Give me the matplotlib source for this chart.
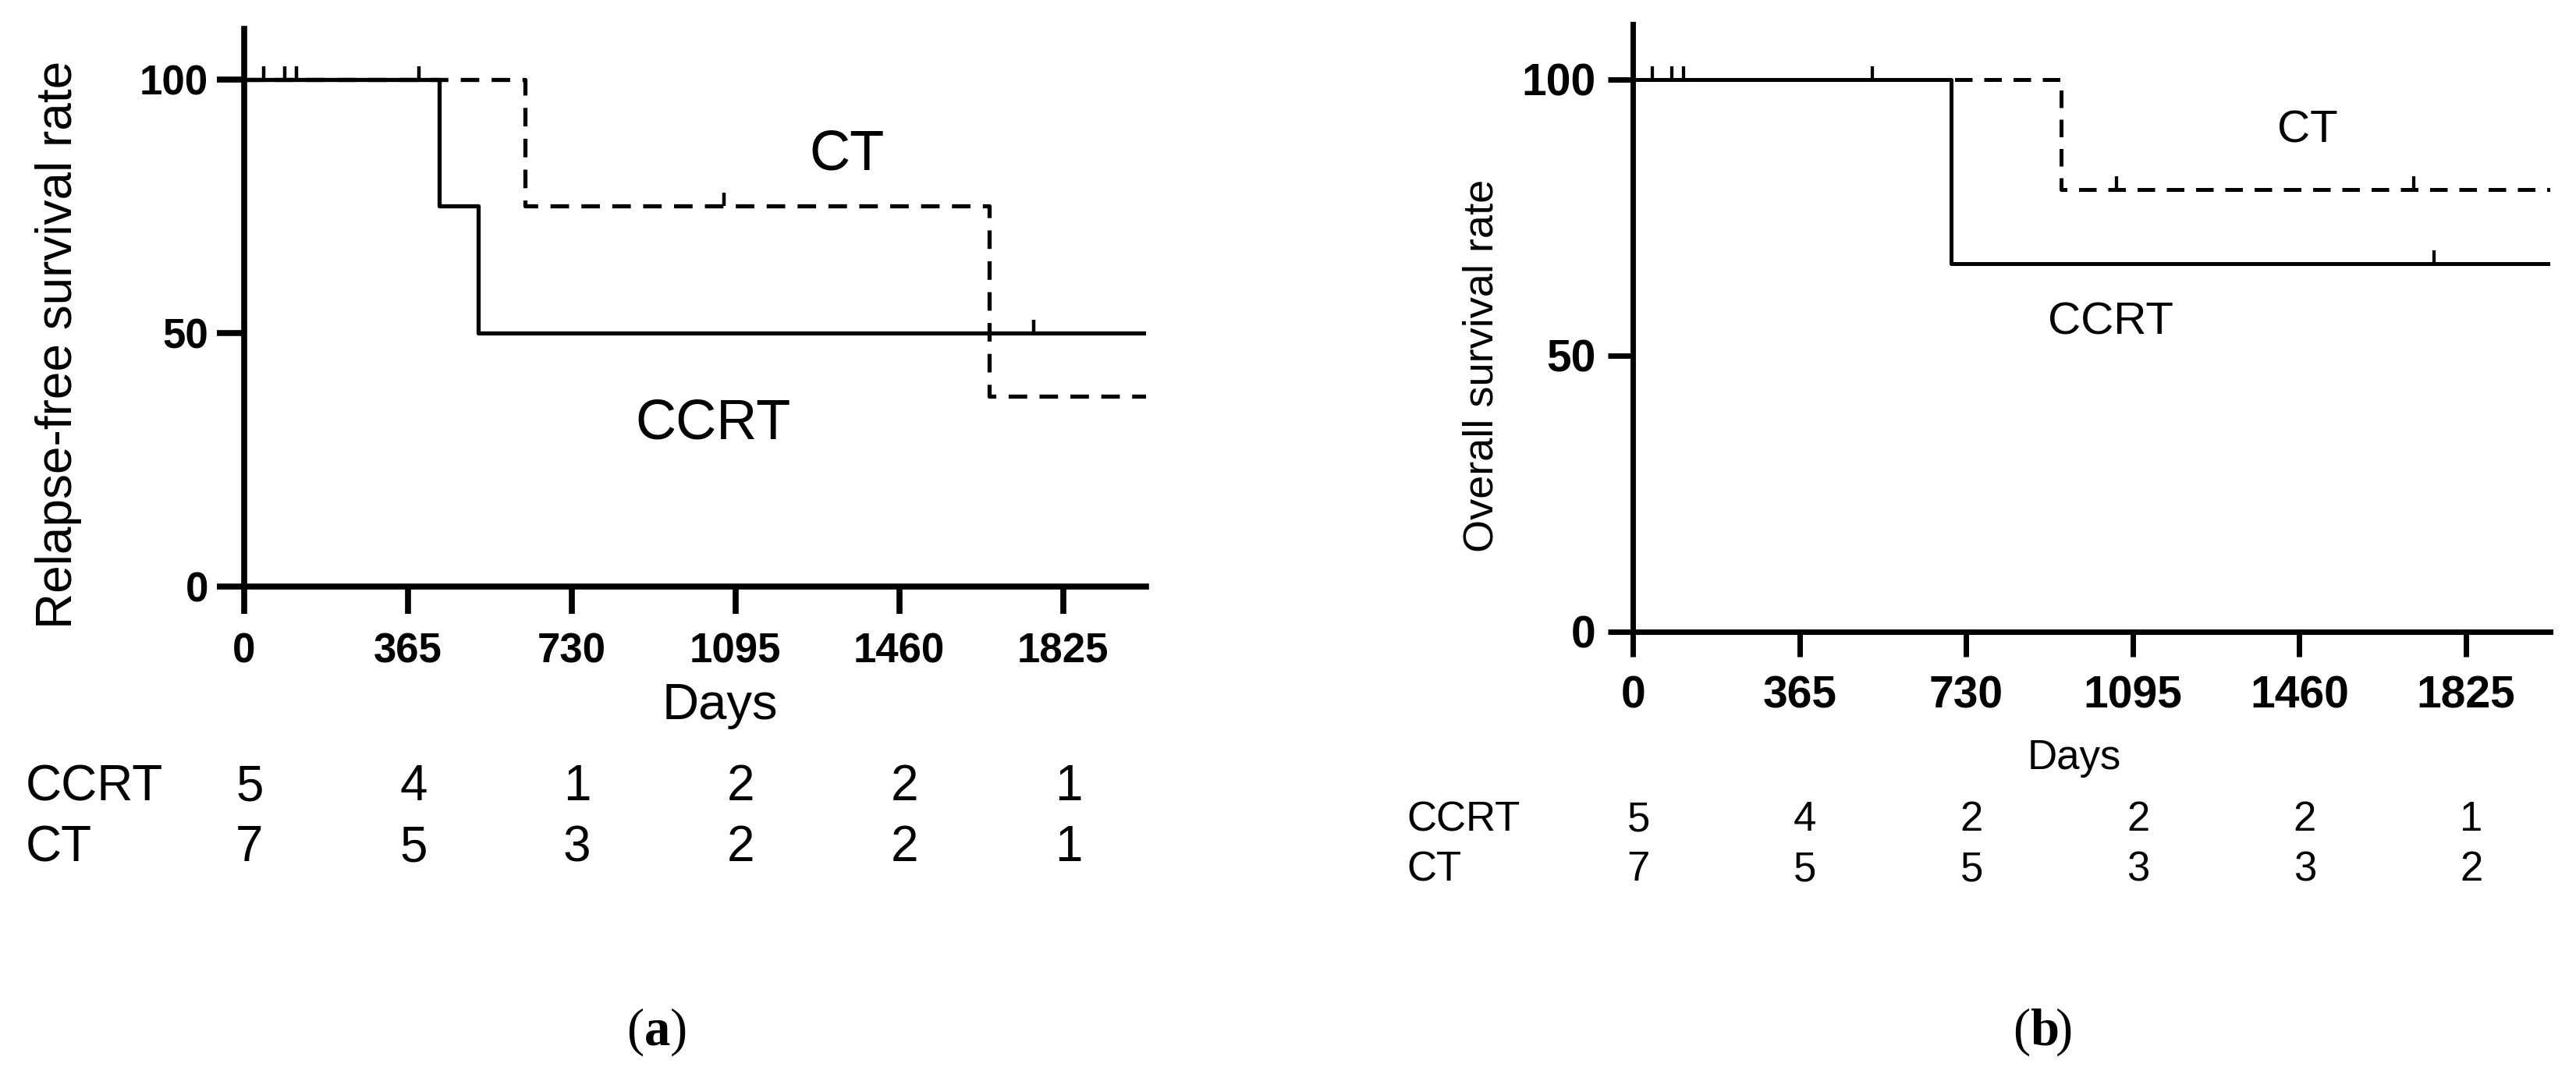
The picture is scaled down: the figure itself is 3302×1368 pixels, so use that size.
import matplotlib
matplotlib.use("Agg")
import matplotlib.pyplot as plt
from matplotlib.transforms import blended_transform_factory, offset_copy

plt.rcParams['font.family'] = ['Liberation Sans', 'DejaVu Sans']

# ---- data ----
day_ticks = [0, 365, 730, 1095, 1460, 1825]
rate_ticks = [0, 50, 100]
groups = ['CCRT', 'CT']

# (a) relapse-free survival
rfs_ccrt_t = [0, 435, 521, 2010]
rfs_ccrt_s = [100, 75, 50, 50]
rfs_ct_t = [0, 626, 1660, 2010]
rfs_ct_s = [100, 75, 37.5, 37.5]
rfs_ccrt_cens_t = [90, 1759]
rfs_ccrt_cens_s = [100, 50]
rfs_ct_cens_t = [43, 117, 389, 1069]
rfs_ct_cens_s = [100, 100, 100, 75]
rfs_risk_ccrt = [5, 4, 1, 2, 2, 1]
rfs_risk_ct = [7, 5, 3, 2, 2, 1]

# (b) overall survival
os_ccrt_t = [0, 697, 2010]
os_ccrt_s = [100, 66.7, 66.7]
os_ct_t = [0, 938, 2010]
os_ct_s = [100, 80, 80]
os_ccrt_cens_t = [85, 524, 1755]
os_ccrt_cens_s = [100, 100, 66.7]
os_ct_cens_t = [43, 111, 1060, 1710]
os_ct_cens_s = [100, 100, 80, 80]
os_risk_ccrt = [5, 4, 2, 2, 2, 1]
os_risk_ct = [7, 5, 5, 3, 3, 2]

DASH = (0, (4.5, 3))


def draw_panel(ax, ccrt, ct, ccrt_cens, ct_cens, tick_fs, spine_lw, line_lw, tick_len):
    # dashed CT first so the solid CCRT line sits on top
    ax.step(ct[0], ct[1], where='post', color='black', lw=line_lw,
            linestyle=DASH, dash_capstyle='butt')
    ax.step(ccrt[0], ccrt[1], where='post', color='black', lw=line_lw,
            solid_capstyle='butt')
    # censor marks (tick up)
    for cens in (ct_cens, ccrt_cens):
        ax.plot(cens[0], cens[1], linestyle='none', marker=2,
                ms=12, mew=line_lw * 0.85, color='black')

    ax.set_xlim(0, 2010)
    ax.set_ylim(0, 110)
    ax.set_xticks(day_ticks)
    ax.set_yticks(rate_ticks)
    ax.spines['top'].set_visible(False)
    ax.spines['right'].set_visible(False)
    ax.spines['left'].set_linewidth(spine_lw)
    ax.spines['bottom'].set_linewidth(spine_lw)
    ax.tick_params(axis='both', length=tick_len, width=spine_lw,
                   labelsize=tick_fs)
    ax.tick_params(axis='x', pad=17)
    ax.tick_params(axis='y', pad=8)
    plt.setp(ax.get_xticklabels() + ax.get_yticklabels(), fontweight='bold')


def risk_table(fig, ax, risk_a, risk_b, ys, label_x, fs):
    trans = blended_transform_factory(ax.transData, fig.transFigure)
    for name, risk, y in zip(groups, [risk_a, risk_b], ys):
        fig.text(label_x, y, name, fontsize=fs, ha='left', va='center')
        for d, n in zip(day_ticks, risk):
            ax.text(d + 12, y, str(n), fontsize=fs, ha='center', va='center',
                    transform=trans, clip_on=False)


fig = plt.figure(figsize=(33.02, 13.68), dpi=100)

ax1 = fig.add_axes([0.0948, 0.4503, 0.3501, 0.5227])
draw_panel(ax1, (rfs_ccrt_t, rfs_ccrt_s), (rfs_ct_t, rfs_ct_s),
           (rfs_ccrt_cens_t, rfs_ccrt_cens_s), (rfs_ct_cens_t, rfs_ct_cens_s),
           tick_fs=38, spine_lw=5.5, line_lw=3.8, tick_len=25)
ax1.text(1343, 85, 'CT', fontsize=52, ha='center', va='center')
ax1.text(1045, 32, 'CCRT', fontsize=52, ha='center', va='center')
fig.text(0.0227, 0.677, 'Relapse-free survival rate', rotation=90,
         fontsize=46, ha='center', va='center')
fig.text(0.2795, 0.3385, 'Days', fontsize=47, ha='center', va='center')
risk_table(fig, ax1, rfs_risk_ccrt, rfs_risk_ct, [0.2624, 0.2054], 0.010, 46)

ax2 = fig.add_axes([0.6339, 0.4079, 0.3562, 0.5694])
draw_panel(ax2, (os_ccrt_t, os_ccrt_s), (os_ct_t, os_ct_s),
           (os_ccrt_cens_t, os_ccrt_cens_s), (os_ct_cens_t, os_ct_cens_s),
           tick_fs=41, spine_lw=5.0, line_lw=3.6, tick_len=23)
ax2.tick_params(axis='y', pad=11)
ax2.text(1478, 90.8, 'CT', fontsize=42, ha='center', va='center')
ax2.text(1046, 56, 'CCRT', fontsize=42, ha='center', va='center')
fig.text(0.5754, 0.657, 'Overall survival rate', rotation=90,
         fontsize=39, ha='center', va='center')
fig.text(0.8053, 0.2895, 'Days', fontsize=38, ha='center', va='center')
risk_table(fig, ax2, os_risk_ccrt, os_risk_ct, [0.2317, 0.1849], 0.546, 38)

# panel letters "(a)" / "(b)" with bold letter
for x, letter in [(0.250, 'a'), (0.788, 'b')]:
    y = 0.033
    fig.text(x, y, '(', fontsize=48, family='Liberation Serif',
             ha='right', va='center')
    fig.text(x, y, letter, fontsize=48, family='Liberation Serif',
             fontweight='bold', ha='left', va='center')
    shifted = offset_copy(fig.transFigure, fig=fig, x=24, y=0, units='points')
    fig.text(x, y, ')', fontsize=48, family='Liberation Serif',
             ha='left', va='center', transform=shifted)

fig.savefig('out.png', dpi=100)
